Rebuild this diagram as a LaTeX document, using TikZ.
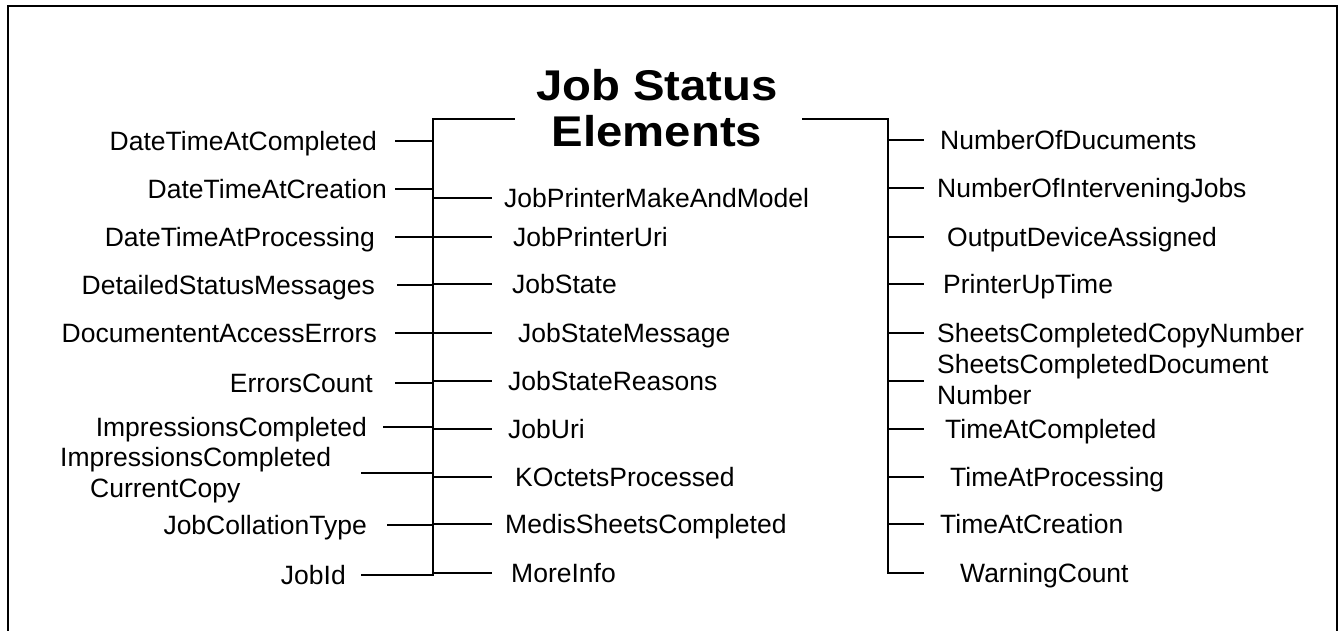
\documentclass[tikz,border=0pt]{standalone}
\usepackage{fontspec}
\setmainfont{Liberation Sans}
\newfontfamily\titlefont[FakeStretch=1.1]{Liberation Sans Bold}
\tikzset{
  lbl/.style={font=\fontsize{26.5}{31}\selectfont, inner sep=0pt, align=left},
  ttl/.style={font=\titlefont\fontsize{43}{45.5}\selectfont, inner sep=0pt, align=center},
  wire/.style={line width=2pt, line join=miter},
}
\begin{document}
\begin{tikzpicture}[x=1pt,y=-1pt]
\useasboundingbox (0,0) rectangle (1340,630);
% frame
\coordinate (F1) at (8,632);
\coordinate (F2) at (8,6);
\coordinate (F3) at (1337,6);
\coordinate (F4) at (1337,632);
\draw[wire] (F1) -- (F2) -- (F3) -- (F4);
% title
\node[ttl, anchor=base] (title) at (657,146) {Job Status\\Elements};
% trunks
\coordinate (TL) at (515,119);
\coordinate (LT) at (433,119);
\coordinate (LB) at (433,575);
\coordinate (TR) at (802,119);
\coordinate (RT) at (888,119);
\coordinate (RB) at (888,573);
% left labels
\foreach \n/\t/\rx/\sx/\y in {
  1/DateTimeAtCompleted/377/395/141,
  2/DateTimeAtCreation/387/395/189,
  3/DateTimeAtProcessing/375/395/237,
  4/DetailedStatusMessages/375/397/285,
  5/DocumententAccessErrors/377/395/333,
  6/ErrorsCount/373/395/383,
  7/ImpressionsCompleted/367/383/427,
  9/JobCollationType/367/387/525}{
  \node[lbl, anchor=base east] (L\n) at (\rx,\y+9) {\t};
  \coordinate (L\n s) at (\sx,\y);
  \coordinate (L\n e) at (433,\y);
  \draw[wire] (L\n s) -- (L\n e);
}
\node[lbl, anchor=base west] (L8) at (60,497) {ImpressionsCompleted\\[0pt]\hspace*{30pt}CurrentCopy};
\coordinate (L8s) at (361,473);
\coordinate (L8e) at (433,473);
\draw[wire] (L8s) -- (L8e);
\node[lbl, anchor=base east] (L10) at (346,584) {JobId};
\coordinate (L10s) at (361,575);
\draw[wire] (L10s) -- (LB) -- (LT) -- (TL);
% middle labels
\foreach \n/\t/\lx/\y in {
  1/JobPrinterMakeAndModel/504/198,
  2/JobPrinterUri/513/237,
  3/JobState/512/284,
  4/JobStateMessage/518/333,
  5/JobStateReasons/508/381,
  6/JobUri/508/429,
  7/KOctetsProcessed/515/477,
  8/MedisSheetsCompleted/505/524,
  9/MoreInfo/511/573}{
  \node[lbl, anchor=base west] (M\n) at (\lx,\y+9) {\t};
  \coordinate (M\n s) at (433,\y);
  \coordinate (M\n e) at (492,\y);
  \draw[wire] (M\n s) -- (M\n e);
}
% right labels
\foreach \n/\t/\lx/\y in {
  1/NumberOfDucuments/940/140,
  2/NumberOfInterveningJobs/937/188,
  3/OutputDeviceAssigned/947/237,
  4/PrinterUpTime/943/284,
  5/SheetsCompletedCopyNumber/937/333,
  7/TimeAtCompleted/945/429,
  8/TimeAtProcessing/950/477,
  9/TimeAtCreation/940/524}{
  \node[lbl, anchor=base west] (R\n) at (\lx,\y+9) {\t};
  \coordinate (R\n s) at (888,\y);
  \coordinate (R\n e) at (924,\y);
  \draw[wire] (R\n s) -- (R\n e);
}
\node[lbl, anchor=base west] (R6) at (937,404) {SheetsCompletedDocument\\[0pt]Number};
\coordinate (R6s) at (888,381);
\coordinate (R6e) at (924,381);
\draw[wire] (R6s) -- (R6e);
\node[lbl, anchor=base west] (R10) at (960,582) {WarningCount};
\coordinate (R10e) at (924,573);
\draw[wire] (TR) -- (RT) -- (RB) -- (R10e);
\end{tikzpicture}
\end{document}
